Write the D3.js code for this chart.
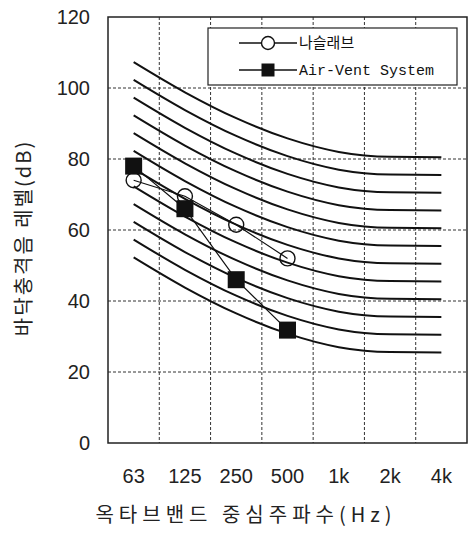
<!DOCTYPE html>
<html>
<head>
<meta charset="utf-8">
<script src="https://cdn.jsdelivr.net/npm/d3@7"></script>
<style>
  body { margin: 0; background: #fff; }
  svg { display: block; }
  .tick text { font-family: 'Liberation Sans', Arial, sans-serif; font-size: 20px; fill: #222; }
  .grid line { stroke: #333; stroke-width: 1; stroke-dasharray: 3,2; }
  .curve { fill: none; stroke: #111; stroke-width: 2; }
  .series { fill: none; stroke: #111; stroke-width: 1.2; }
  .legend text { font-family: 'Liberation Mono', 'Noto Sans CJK KR', monospace; font-size: 15px; fill: #111; }
  .title { font-family: 'Noto Sans CJK KR', sans-serif; font-size: 20px; fill: #222; }
</style>
</head>
<body>
<svg id="chart"></svg>
<script>
'use strict';

const bands = ['63', '125', '250', '500', '1k', '2k', '4k'];
const yTicks = [0, 20, 40, 60, 80, 100, 120];

// reference curves, one per 5 dB step, read at each band centre
const curve26 = [52.3, 43.8, 36.5, 30.8, 27.0, 25.6, 25.5];
const curve31 = [57.3, 48.8, 41.5, 35.8, 32.0, 30.6, 30.5];
const curve36 = [62.3, 53.8, 46.5, 40.8, 37.0, 35.6, 35.5];
const curve41 = [67.3, 58.8, 51.5, 45.8, 42.0, 40.6, 40.5];
const curve46 = [72.3, 63.8, 56.5, 50.8, 47.0, 45.6, 45.5];
const curve51 = [77.3, 68.8, 61.5, 55.8, 52.0, 50.6, 50.5];
const curve56 = [82.3, 73.8, 66.5, 60.8, 57.0, 55.6, 55.5];
const curve61 = [87.3, 78.8, 71.5, 65.8, 62.0, 60.6, 60.5];
const curve66 = [92.3, 83.8, 76.5, 70.8, 67.0, 65.6, 65.5];
const curve71 = [97.3, 88.8, 81.5, 75.8, 72.0, 70.6, 70.5];
const curve76 = [102.3, 93.8, 86.5, 80.8, 77.0, 75.6, 75.5];
const curve81 = [107.3, 98.8, 91.5, 85.8, 82.0, 80.6, 80.5];
const curves = [curve26, curve31, curve36, curve41, curve46, curve51,
                curve56, curve61, curve66, curve71, curve76, curve81];

const slabBands = ['63', '125', '250', '500'];
const slabValues = [74, 69.5, 61.5, 52];       // 나슬래브
const ventValues = [78, 66, 46, 31.8];         // Air-Vent System

class LevelChart {
  constructor(el, m, w, h) {
    this.mount = el;
    this.margin = m;
    this.outerWidth = w;
    this.outerHeight = h;
    this.width = w - m.left - m.right;
    this.height = h - m.top - m.bottom;
  }

  init() {
    const svg = d3.select(this.mount)
        .attr('width', this.outerWidth)
        .attr('height', this.outerHeight);

    const graph = svg.append('g')
        .attr('transform', `translate(${this.margin.left}, ${this.margin.top})`);

    const x = d3.scaleBand()
        .domain(bands)
        .range([0, this.width])
        .padding(0);

    const y = d3.scaleLinear()
        .domain([0, 120])
        .range([this.height, 0]);

    const cx = d => x(d) + x.bandwidth() / 2;

    // grid
    graph.append('g')
        .attr('class', 'grid')
      .selectAll('line.h')
      .data(yTicks.slice(1, -1))
      .join('line')
        .attr('x1', 0).attr('x2', this.width)
        .attr('y1', d => y(d)).attr('y2', d => y(d));

    graph.select('.grid')
      .selectAll('line.v')
      .data(bands.slice(1))
      .join('line')
        .attr('class', 'v')
        .attr('x1', d => x(d)).attr('x2', d => x(d))
        .attr('y1', 0).attr('y2', this.height);

    const yAxis = d3.axisLeft(y)
        .tickValues(yTicks)
        .tickSize(0)
        .tickPadding(18);

    const xAxis = d3.axisBottom(x)
        .tickSize(0)
        .tickPadding(26);

    graph.append('g')
        .attr('class', 'y-axis')
        .call(yAxis)
        .call(g => g.select('.domain').remove());

    graph.append('g')
        .attr('class', 'x-axis')
        .attr('transform', `translate(0, ${this.height})`)
        .call(xAxis)
        .call(g => g.select('.domain').remove());

    const line = d3.line()
        .x((d, i) => cx(bands[i]))
        .y(d => y(d))
        .curve(d3.curveMonotoneX);

    graph.append('g')
      .selectAll('path')
      .data(curves)
      .join('path')
        .attr('class', 'curve')
        .attr('d', line);

    const seriesLine = d3.line()
        .x((d, i) => cx(slabBands[i]))
        .y(d => y(d));

    graph.append('path')
        .datum(slabValues)
        .attr('class', 'series')
        .attr('d', seriesLine);

    graph.append('path')
        .datum(ventValues)
        .attr('class', 'series')
        .attr('d', seriesLine);

    graph.append('g')
      .selectAll('circle')
      .data(slabValues)
      .join('circle')
        .attr('cx', (d, i) => cx(slabBands[i]))
        .attr('cy', d => y(d))
        .attr('r', 7.5)
        .attr('fill', 'none')
        .attr('stroke', '#111')
        .attr('stroke-width', 1.4);

    const sq = 17;
    graph.append('g')
      .selectAll('rect')
      .data(ventValues)
      .join('rect')
        .attr('x', (d, i) => cx(slabBands[i]) - sq / 2)
        .attr('y', d => y(d) - sq / 2)
        .attr('width', sq)
        .attr('height', sq)
        .attr('fill', '#111');

    // frame
    graph.append('rect')
        .attr('width', this.width)
        .attr('height', this.height)
        .attr('fill', 'none')
        .attr('stroke', '#222')
        .attr('stroke-width', 1.5);

    // legend
    const legend = svg.append('g')
        .attr('class', 'legend')
        .attr('transform', 'translate(208, 28)');

    legend.append('rect')
        .attr('width', 249)
        .attr('height', 57)
        .attr('fill', '#fff')
        .attr('stroke', '#222')
        .attr('stroke-width', 1.2);

    const rows = legend.selectAll('g.row')
      .data(['나슬래브', 'Air-Vent System'])
      .join('g')
        .attr('class', 'row')
        .attr('transform', (d, i) => `translate(0, ${15 + i * 27})`);

    rows.append('line')
        .attr('x1', 31).attr('x2', 89)
        .attr('stroke', '#111')
        .attr('stroke-width', 1.4);

    rows.filter((d, i) => i === 0).append('circle')
        .attr('cx', 60).attr('r', 6.5)
        .attr('fill', '#fff')
        .attr('stroke', '#111')
        .attr('stroke-width', 1.4);

    rows.filter((d, i) => i === 1).append('rect')
        .attr('x', 53.5).attr('y', -6.5)
        .attr('width', 13).attr('height', 13)
        .attr('fill', '#111');

    rows.append('text')
        .attr('x', 91)
        .attr('dy', '0.35em')
        .text(d => d);

    // axis titles
    svg.append('text')
        .attr('class', 'title')
        .attr('transform', 'translate(31, 238) rotate(-90)')
        .attr('text-anchor', 'middle')
        .style('letter-spacing', '2px')
        .text('바닥충격음 레벨(dB)');

    svg.append('text')
        .attr('class', 'title')
        .attr('x', 246)
        .attr('y', 522)
        .attr('text-anchor', 'middle')
        .style('letter-spacing', '5px')
        .text('옥타브밴드 중심주파수(Hz)');
  }
}

const chart = new LevelChart('#chart', {top: 17, right: 5, bottom: 95, left: 108}, 472, 538);
chart.init();
</script>
</body>
</html>
